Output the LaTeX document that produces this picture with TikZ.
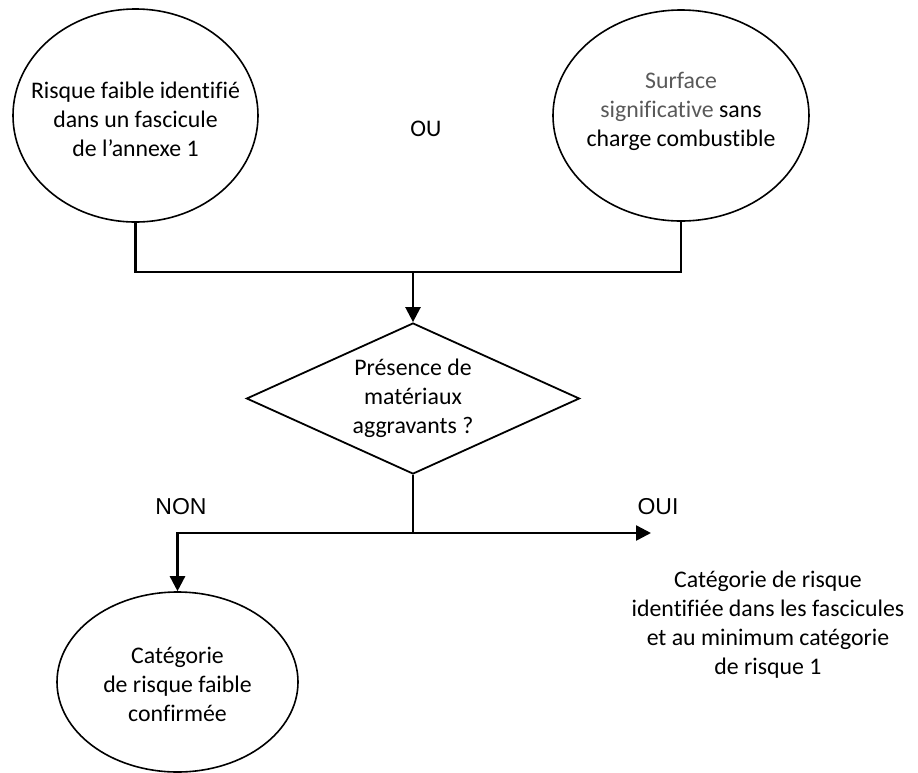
\documentclass[tikz,border=0pt]{standalone}
\usepackage{fontspec}
\setmainfont{Carlito}[Ligatures=NoCommon]
\newfontfamily\arialfont{Liberation Sans}
\usetikzlibrary{shapes.geometric,arrows.meta}
\definecolor{ink}{HTML}{000000}
\definecolor{grey}{HTML}{595959}
\tikzset{
  bulle/.style={draw=ink, ellipse, line width=0.8pt, inner sep=0pt},
  losange/.style={draw=ink, diamond, line width=0.9pt, inner sep=0pt, aspect=2.2},
  txt/.style={align=center, font=\fontsize{11.9}{14.5}\selectfont, inner sep=0pt},
  rep/.style={font=\arialfont\fontsize{11.5}{13}\selectfont, inner sep=0pt},
  lien/.style={draw=ink, line width=1.25pt},
  fleche/.style={lien, -{Triangle[width=7.5pt,length=7.5pt]}},
}

\begin{document}
\begin{tikzpicture}[x=0.5pt,y=-0.5pt]
  \useasboundingbox (0,0) rectangle (918,773);

  % entrees
  \node[bulle, minimum width=122.5pt, minimum height=106.5pt] (risk) at (135.5,115.5) {};
  \node[txt] (risktxt) at (135.5,119) {Risque faible identifié\\dans un fascicule\\de l’annexe 1};
  \node[bulle, minimum width=128pt, minimum height=105.5pt] (surf) at (681,115.5) {};
  \node[txt] (surftxt) at (681,111) {\textcolor{grey}{Surface}\\\textcolor{grey}{significative} sans\\charge combustible};
  \node[txt] (ou) at (426,129) {OU};

  % question
  \node[losange, minimum width=166.5pt, minimum height=75.5pt] (quest) at (413,398.5) {};
  \node[txt] (questtxt) at (413,398) {Présence de\\matériaux\\aggravants ?};

  % sorties
  \node[bulle, minimum width=120.5pt, minimum height=90pt] (conf) at (177.5,682) {};
  \node[txt] (conftxt) at (177.5,684) {Catégorie\\de risque faible\\confirmée};
  \node[txt] (cat) at (768,625) {Catégorie de risque\\identifiée dans les fascicules\\et au minimum catégorie\\de risque 1};
  \node[rep] (non) at (181,507) {NON};
  \node[rep] (oui) at (658,507) {OUI};

  \coordinate (join) at (413,272);
  \coordinate (split) at (413,533);
  \coordinate (fin) at (651,533);

  \draw[lien] (risk.south) |- (join) -| (surf.south);
  \draw[fleche] (join) -- (quest.north);
  \draw[lien] (quest.south) -- (split);
  \draw[fleche] (split) -| (conf.north);
  \draw[fleche] (split) -- (fin);
\end{tikzpicture}
\end{document}
